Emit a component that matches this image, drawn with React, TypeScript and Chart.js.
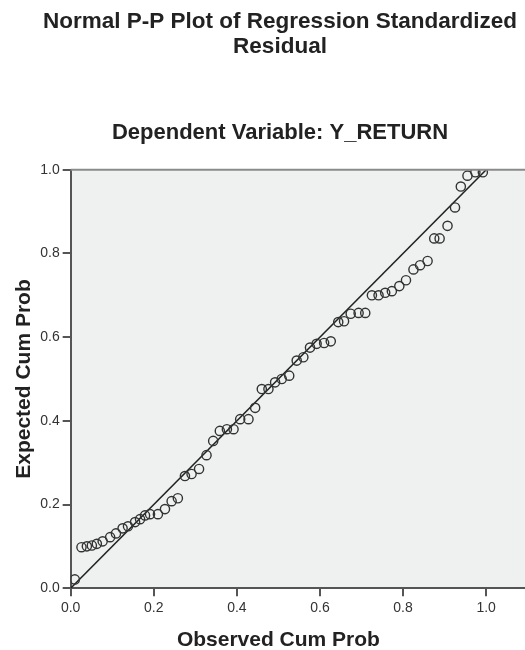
import React, { useEffect, useRef } from "react";
import { Chart, registerables } from "chart.js";

Chart.register(...registerables);

const TITLE_LINES = ["Normal P-P Plot of Regression Standardized", "Residual"];
const SUBTITLE = "Dependent Variable: Y_RETURN";
const X_TITLE = "Observed Cum Prob";
const Y_TITLE = "Expected Cum Prob";
const X_TICKS = [0, 0.2, 0.4, 0.6, 0.8, 1.0];
const Y_TICKS = [0, 0.2, 0.4, 0.6, 0.8, 1.0];

// Observed cumulative probability (x) and expected cumulative probability (y)
const OBSERVED = [
  0.010, 0.026, 0.039, 0.051, 0.063, 0.077, 0.095, 0.109, 0.125, 0.138,
  0.155, 0.167, 0.179, 0.191, 0.210, 0.227, 0.243, 0.258, 0.275, 0.291,
  0.309, 0.327, 0.343, 0.359, 0.376, 0.392, 0.408, 0.428, 0.444, 0.460,
  0.476, 0.492, 0.508, 0.526, 0.544, 0.560, 0.576, 0.592, 0.610, 0.626,
  0.644, 0.658, 0.674, 0.693, 0.709, 0.725, 0.741, 0.757, 0.773, 0.791,
  0.807, 0.825, 0.841, 0.859, 0.875, 0.888, 0.907, 0.925, 0.939, 0.955,
  0.974, 0.992,
];
const EXPECTED = [
  0.021, 0.098, 0.100, 0.102, 0.106, 0.112, 0.122, 0.131, 0.143, 0.148,
  0.158, 0.165, 0.174, 0.177, 0.177, 0.189, 0.208, 0.215, 0.268, 0.273,
  0.285, 0.318, 0.352, 0.376, 0.380, 0.380, 0.404, 0.404, 0.431, 0.476,
  0.476, 0.492, 0.500, 0.508, 0.544, 0.552, 0.575, 0.584, 0.586, 0.590,
  0.636, 0.638, 0.656, 0.658, 0.658, 0.700, 0.700, 0.706, 0.710, 0.722,
  0.736, 0.762, 0.772, 0.782, 0.836, 0.836, 0.866, 0.910, 0.960, 0.986,
  0.994, 0.994,
];
const REF_LINE_X = [0, 1];
const REF_LINE_Y = [0, 1];

const FONT = "'Liberation Sans', Arial, sans-serif";

export default function App() {
  const canvasRef = useRef<HTMLCanvasElement | null>(null);

  useEffect(() => {
    const canvas = canvasRef.current;
    if (!canvas) return;

    const bgPlugin = {
      id: "plotBg",
      beforeDraw(chart: any) {
        const { ctx, chartArea } = chart;
        ctx.save();
        ctx.fillStyle = "#eff1f1";
        ctx.fillRect(chartArea.left, chartArea.top, chartArea.right - chartArea.left, chartArea.bottom - chartArea.top);
        ctx.restore();
      },
      afterDraw(chart: any) {
        const { ctx, chartArea } = chart;
        ctx.save();
        ctx.strokeStyle = "#8a8a8a";
        ctx.lineWidth = 2;
        ctx.beginPath();
        ctx.moveTo(chartArea.left, chartArea.top);
        ctx.lineTo(chartArea.right, chartArea.top);
        ctx.stroke();
        const xs = chart.scales.x;
        ctx.fillStyle = "#222";
        ctx.font = `bold 21px ${FONT}`;
        ctx.textAlign = "center";
        ctx.textBaseline = "middle";
        ctx.fillText(X_TITLE, xs.getPixelForValue(0.5), 640);
        ctx.restore();
      },
    };

    const chart = new Chart(canvas, {
      type: "scatter",
      data: {
        datasets: [
          {
            type: "line",
            data: REF_LINE_X.map((x, i) => ({ x, y: REF_LINE_Y[i] })),
            borderColor: "#222",
            borderWidth: 1.6,
            pointRadius: 0,
            fill: false,
            order: 2,
          } as any,
          {
            data: OBSERVED.map((x, i) => ({ x, y: EXPECTED[i] })),
            pointRadius: 4.6,
            pointBorderWidth: 1.4,
            borderColor: "#333",
            backgroundColor: "rgba(0,0,0,0)",
            order: 1,
          },
        ],
      },
      options: {
        responsive: false,
        animation: false,
        layout: { padding: { left: 8, right: 0, top: 0, bottom: 29 } },
        plugins: {
          legend: { display: false },
          tooltip: { enabled: false },
          title: {
            display: true,
            text: TITLE_LINES,
            color: "#222",
            font: { family: FONT, size: 22.5, weight: "bold", lineHeight: 1.08 },
            padding: { top: 10, bottom: 0 },
          },
          subtitle: {
            display: true,
            text: SUBTITLE,
            color: "#222",
            font: { family: FONT, size: 22, weight: "bold", lineHeight: 1.1 },
            padding: { top: 62, bottom: 25 },
          },
        },
        scales: {
          x: {
            type: "linear",
            min: 0,
            max: 1.144,
            afterBuildTicks: (scale: any) => {
              scale.ticks = X_TICKS.map((v) => ({ value: v }));
            },
            ticks: {
              color: "#333",
              font: { family: FONT, size: 14 },
              padding: 4,
              maxRotation: 0,
              callback: (v: any) => Number(v).toFixed(1),
            },
            grid: { display: true, drawOnChartArea: false, drawTicks: true, tickLength: 8, color: "#555", lineWidth: 2 },
            border: { display: true, color: "#555", width: 2 },
            title: { display: false },
          },
          y: {
            type: "linear",
            min: 0,
            max: 1,
            afterBuildTicks: (scale: any) => {
              scale.ticks = Y_TICKS.map((v) => ({ value: v }));
            },
            ticks: {
              color: "#333",
              font: { family: FONT, size: 14 },
              padding: 3,
              callback: (v: any) => Number(v).toFixed(1),
            },
            grid: { display: true, drawOnChartArea: false, drawTicks: true, tickLength: 8, color: "#555", lineWidth: 2 },
            border: { display: true, color: "#555", width: 2 },
            title: {
              display: true,
              text: Y_TITLE,
              color: "#222",
              font: { family: FONT, size: 21, weight: "bold" },
              padding: { top: 4, bottom: 0 },
            },
          },
        },
      },
      plugins: [bgPlugin],
    });

    return () => chart.destroy();
  }, []);

  return (
    <div style={{ position: "fixed", left: 0, top: 0, width: 525, height: 650, overflow: "hidden", background: "#fff" }}>
      <canvas ref={canvasRef} width={552} height={650} style={{ width: 552, height: 650, display: "block" }} />
    </div>
  );
}
